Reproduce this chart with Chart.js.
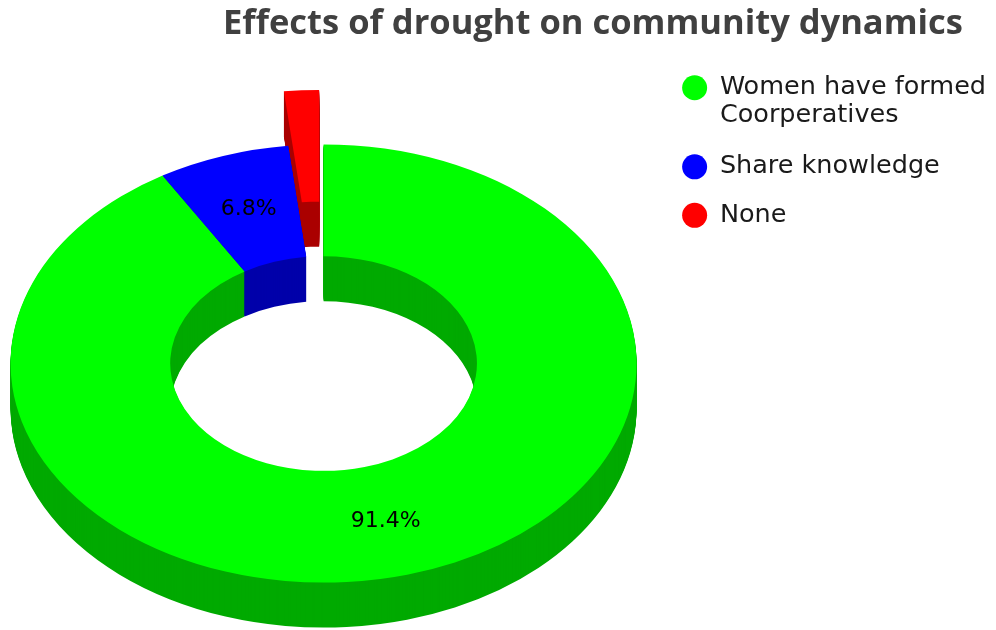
<!DOCTYPE html>
<html>
<head>
<meta charset="utf-8">
<script src="https://cdn.jsdelivr.net/npm/chart.js@4.4.1/dist/chart.umd.min.js"></script>
<style>
  html, body { margin: 0; padding: 0; background: #fff; }
  #wrap { width: 996px; height: 630px; }
</style>
</head>
<body>
<div id="wrap"><canvas id="chart0" width="996" height="630"></canvas></div>
<script>
// survey answers, percent of respondents
const labels = [['Women have formed', 'Coorperatives'], 'Share knowledge', 'None'];
const values = [91.4, 6.8, 1.8];

// face / side colours and how far each slice is pulled out
const faceColors = ['#00ff00', '#0000ff', '#ff0000'];
const sideColors = ['#00aa00', '#0000aa', '#aa0000'];
const pullOut = [0, 0, 78];

// {{{ pie3d plugin: squashes the doughnut and stacks darker copies under it
const pie3d =
{
  id: 'pie3d',
  beforeDatasetsDraw(chart, args, o)
  {
    let ctx = chart.ctx;
    let arcs = chart.getDatasetMeta(0).data;
    let cx = arcs[0].x;
    let cy = arcs[0].y;
    let place = (drop) =>
    {
      ctx.translate(cx + o.dx, cy + o.depth / 2 + drop);
      ctx.scale(1, o.tilt);
      ctx.translate(-cx, -cy);
    };
    let slice = (arc, i, color) =>
    {
      let mid = (arc.startAngle + arc.endAngle) / 2;
      let piece = Object.create(arc);
      piece.options = Object.assign({}, arc.options, {backgroundColor: color});
      ctx.save();
      ctx.translate(Math.cos(mid) * pullOut[i], Math.sin(mid) * pullOut[i]);
      arc.draw.call(piece, ctx);
      ctx.restore();
    };
    // sides, bottom layer first
    for (let d = o.depth; d > 0; d--)
    {
      ctx.save();
      place(d);
      arcs.forEach((arc, i) => slice(arc, i, sideColors[i]));
      ctx.restore();
    }
    // top faces
    ctx.save();
    place(0);
    arcs.forEach((arc, i) => slice(arc, i, faceColors[i]));
    ctx.restore();
    // value labels
    ctx.save();
    ctx.font = '22px "DejaVu Sans"';
    ctx.fillStyle = '#000';
    ctx.textAlign = 'center';
    ctx.textBaseline = 'middle';
    arcs.forEach((arc, i) =>
    {
      if (values[i] < o.minLabel)
      {
        return;
      }
      let p = arc.tooltipPosition();
      ctx.fillText(values[i] + '%', p.x + o.dx, cy + o.depth / 2 + (p.y - cy) * o.tilt);
    });
    ctx.restore();
    return false;
  },
  afterLayout(chart, args, o)
  {
    chart.titleBlock.right = chart.width - o.titleInset;
  }
};
// }}}

new Chart(document.getElementById('chart0'),
{
  type: 'doughnut',
  data:
  {
    labels: labels,
    datasets:
    [
      {
        data: values,
        backgroundColor: faceColors,
        borderWidth: 0,
        clip: false
      }
    ]
  },
  options:
  {
    responsive: false,
    animation: false,
    events: [],
    radius: 313,
    cutout: '49%',
    plugins:
    {
      pie3d: {depth: 45, tilt: 0.7, dx: -6, minLabel: 5, titleInset: 33},
      title:
      {
        display: true,
        text: 'Effects of drought on community dynamics',
        align: 'end',
        color: '#404040',
        font: {family: "'Open Sans', sans-serif", size: 34.5, weight: 'bold', lineHeight: 1},
        padding: {top: 7, bottom: 10.5}
      },
      legend:
      {
        position: 'right',
        align: 'start',
        fullSize: false,
        labels:
        {
          usePointStyle: true,
          pointStyle: 'circle',
          pointStyleWidth: 25,
          boxHeight: 17.7,
          padding: 23,
          color: '#1a1a1a',
          font: {family: "'DejaVu Sans', sans-serif", size: 25.5, lineHeight: 1.1}
        }
      },
      tooltip: {enabled: false}
    }
  },
  plugins: [pie3d]
});
</script>
</body>
</html>
